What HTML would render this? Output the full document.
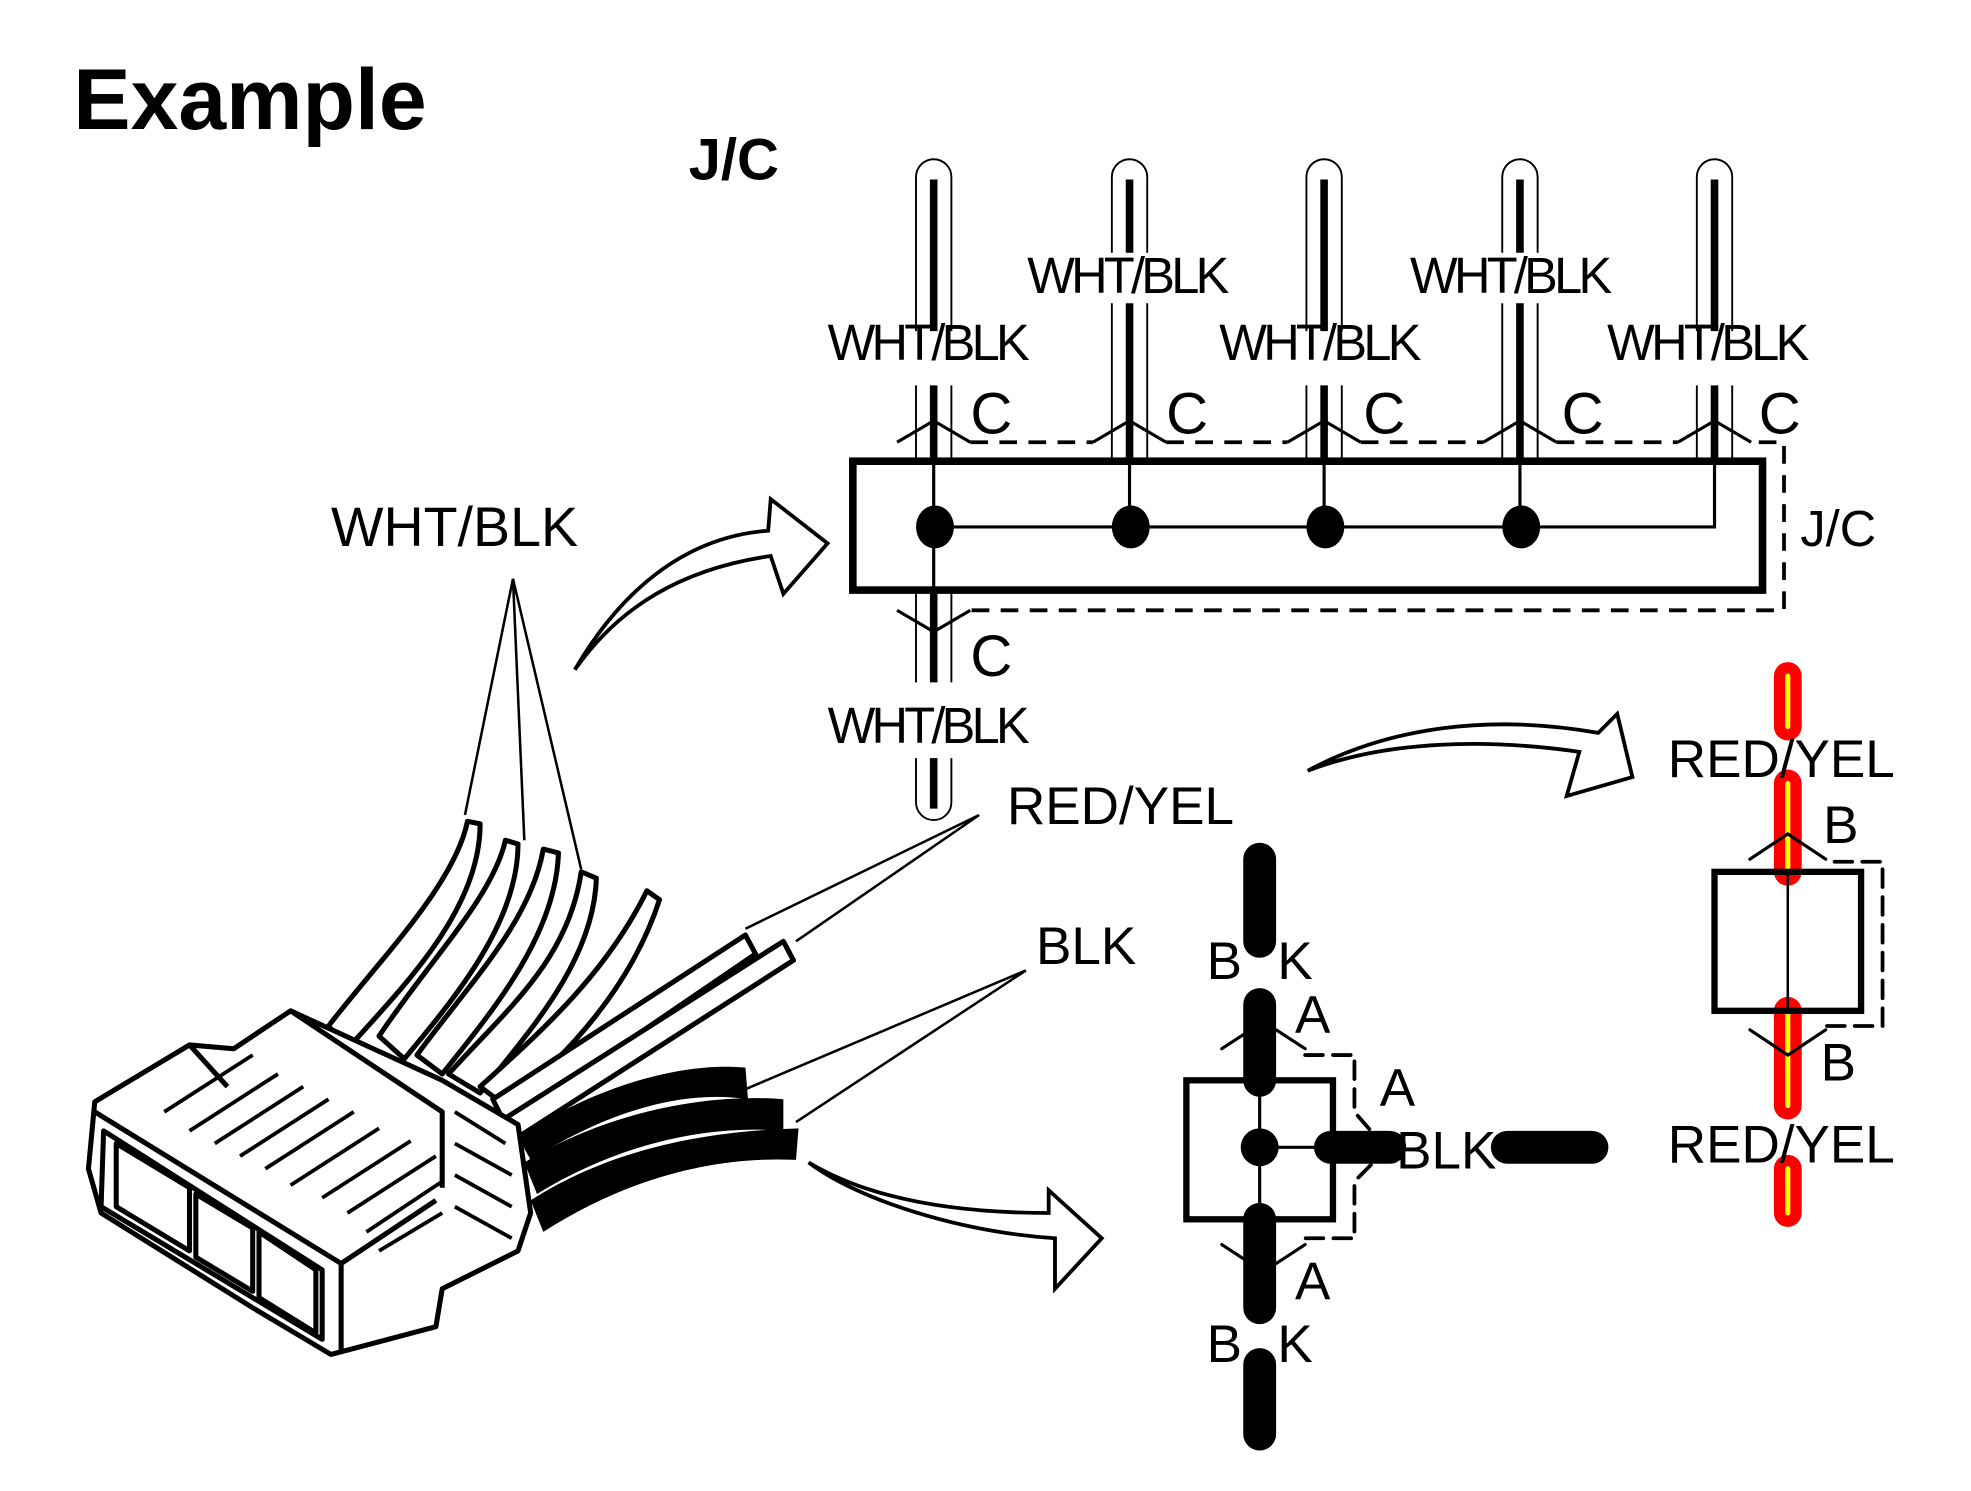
<!DOCTYPE html>
<html><head><meta charset="utf-8"><style>
html,body{margin:0;padding:0;background:#fff;width:1971px;height:1491px;overflow:hidden}
svg{display:block}
text{font-family:"Liberation Sans",sans-serif;fill:#000}
</style></head><body>
<svg width="1971" height="1491" viewBox="0 0 1560 1180" xmlns="http://www.w3.org/2000/svg">
<text x="58" y="102" font-size="68" font-weight="bold">Example</text>
<text x="545" y="142" font-size="46" font-weight="bold">J/C</text>

<g stroke="#000" fill="none">
<g stroke-width="1.5">
<path d="M725,262 V140 A14,14 0 0 1 753,140 V262"/><path d="M725,305 V365 M753,305 V365"/>
<path d="M880,200 V140 A14,14 0 0 1 908,140 V200"/><path d="M880,240 V365 M908,240 V365"/>
<path d="M1034,262 V140 A14,14 0 0 1 1062,140 V262"/><path d="M1034,305 V365 M1062,305 V365"/>
<path d="M1189,200 V140 A14,14 0 0 1 1217,140 V200"/><path d="M1189,240 V365 M1217,240 V365"/>
<path d="M1343,262 V140 A14,14 0 0 1 1371,140 V262"/><path d="M1343,305 V365 M1371,305 V365"/>
<path d="M725,467 V540 M753,467 V540 M725,600 V635 A14,14 0 0 0 753,635 V600"/>
</g>
<g stroke-width="6">
<path d="M739,142 V262 M739,305 V365"/>
<path d="M894,142 V200 M894,240 V365"/>
<path d="M1048,142 V262 M1048,305 V365"/>
<path d="M1203,142 V200 M1203,240 V365"/>
<path d="M1357,142 V262 M1357,305 V365"/>
<path d="M739,467 V540 M739,600 V640"/>
</g>
<g stroke-width="2.5">
<path d="M710,350 L739,333 L768,350 M865,350 L894,333 L923,350 M1019,350 L1048,333 L1077,350 M1174,350 L1203,333 L1232,350 M1328,350 L1357,333 L1386,350"/>
<path d="M710,483 L739,500 L768,483"/>
</g>
<path d="M768,350 H865 M923,350 H1019 M1077,350 H1174 M1232,350 H1328 M1392,350 H1412 V483 H768" stroke-width="3" stroke-dasharray="14,9"/>
<rect x="675" y="365" width="720" height="102" stroke-width="6"/>
<path d="M739,365 V467 M894,365 V417 M1048,365 V417 M1203,365 V417 M739,417 H1357 V365" stroke-width="2.5"/>
</g>
<g fill="#000"><ellipse cx="740" cy="417" rx="15" ry="17"/><ellipse cx="895" cy="417" rx="15" ry="17"/><ellipse cx="1049" cy="417" rx="15" ry="17"/><ellipse cx="1204" cy="417" rx="15" ry="17"/></g>
<g font-size="40">
<text x="655" y="285" textLength="160">WHT/BLK</text>
<text x="813" y="232" textLength="160">WHT/BLK</text>
<text x="965" y="285" textLength="160">WHT/BLK</text>
<text x="1116" y="232" textLength="160">WHT/BLK</text>
<text x="1272" y="285" textLength="160">WHT/BLK</text>
<text x="655" y="588" textLength="160">WHT/BLK</text>
<text x="1425" y="432">J/C</text>
</g>
<text x="262" y="432" font-size="44">WHT/BLK</text>
<g font-size="46"><text x="768" y="343">C</text><text x="923" y="343">C</text><text x="1079" y="343">C</text><text x="1236" y="343">C</text><text x="1392" y="343">C</text><text x="768" y="535">C</text></g>

<g fill="#fff" stroke="#000" stroke-width="3" stroke-linejoin="miter">
<path d="M455,530 C490,480 540,450 610,440 L620,470 L655,430 L610,395 L608,420 C540,425 490,470 455,530 Z"/>
<path d="M1035,610 C1100,585 1180,585 1250,595 L1240,630 L1292,615 L1280,565 L1265,580 C1180,565 1100,575 1035,610 Z"/>
<path d="M640,920 C680,950 760,975 835,980 L835,1020 L872,980 L830,942 L830,960 C760,960 690,950 640,920 Z"/>
</g>

<g stroke="#000" stroke-width="2" fill="none">
<path d="M406,458 L368,645 M406,458 L415,665 M406,458 L460,688"/>
<path d="M775,645 L590,735 M775,645 L630,745"/>
<path d="M812,768 L590,862 M812,768 L630,888"/>
</g>
<text x="797" y="652" font-size="42">RED/YEL</text>
<text x="820" y="763" font-size="42">BLK</text>

<g stroke="#000" stroke-width="4" fill="#fff" stroke-linejoin="round">
<path d="M260,812 C300,760 360,700 370,650 L380,652 C380,720 320,780 275,830 Z"/>
<path d="M300,820 C340,760 390,710 400,665 L410,668 C410,730 360,790 320,838 Z"/>
<path d="M330,835 C370,780 420,730 430,672 L442,675 C440,740 390,800 350,850 Z"/>
<path d="M355,850 C400,800 450,760 460,690 L472,695 C470,760 420,815 380,865 Z"/>
<path d="M380,860 C430,815 480,770 512,705 L522,712 C500,780 450,835 400,875 Z"/>
<path d="M390,870 L590,740 L598,755 L400,890 Z"/>
<path d="M400,885 L620,745 L628,760 L410,900 Z"/>
</g>
<g fill="#000"><path d="M410,900 C470,860 540,840 590,845 L592,870 C540,862 480,880 420,918 Z"/>
<path d="M415,920 C480,880 560,865 620,870 L620,895 C560,890 490,905 425,945 Z"/>
<path d="M420,950 C490,905 570,895 632,893 L630,918 C570,915 500,930 430,975 Z"/></g>
<g stroke="#000" stroke-width="4" fill="#fff" stroke-linejoin="round">
<path d="M75,872 L150,827 L185,830 L230,800 L350,855 L410,890 L420,960 L410,990 L350,1020 L345,1050 L262,1072 L200,1035 L80,960 L70,925 Z"/>
<path d="M75,880 L270,1000 L345,950 M270,1000 L270,1070"/>
<path d="M82,895 L255,1005 L255,1060 L80,955 Z" fill="#fff"/>
<path d="M92,905 L150,940 L150,990 L92,955 Z M155,945 L200,972 L200,1022 L155,995 Z M205,975 L250,1005 L250,1055 L205,1027 Z"/>
<path d="M150,827 L180,860 M230,800 L350,880 L350,940"/>
</g>
<g stroke="#000" stroke-width="3">
<path d="M130,880 L200,835 M150,895 L220,850 M170,905 L240,860 M190,915 L260,870 M210,925 L280,880 M230,938 L300,893 M255,948 L325,903 M275,960 L345,915 M290,975 L350,935 M300,990 L350,960 M360,880 L400,905 M360,905 L405,930 M360,930 L405,955 M360,955 L405,980"/>
</g>

<g transform="translate(-5,0)">
<g stroke="#000" stroke-linecap="round" fill="none">
<path d="M1002,680 V745 M1002,795 V855 M1002,965 V1035 M1002,1080 V1135" stroke-width="26"/>
<path d="M1058,908 H1105 M1198,908 H1265" stroke-width="26"/>
<path d="M1002,855 V965 M1002,908 H1060" stroke-width="2.5"/>
<rect x="944" y="855" width="116" height="110" stroke-width="5"/>
<path d="M972,830 L995,815 M1015,815 L1038,830 M972,985 L995,1000 M1015,1000 L1038,985" stroke-width="2.5"/>
<path d="M1038,835 H1077 V880 L1090,895 M1090,922 L1077,935 V980 H1038" stroke-width="3" stroke-dasharray="14,8"/>
</g>
<ellipse cx="1002" cy="908" rx="15" ry="15"/>
<g font-size="42"><text x="960" y="775">B</text><text x="1016" y="775">K</text><text x="1030" y="817">A</text><text x="1097" y="875">A</text><text x="1110" y="925">BLK</text><text x="1030" y="1028">A</text><text x="960" y="1078">B</text><text x="1016" y="1078">K</text></g>
</g>

<g stroke-linecap="round" fill="none">
<path d="M1415,535 V575 M1415,620 V690 M1415,800 V875 M1415,925 V960" stroke="#f00" stroke-width="22"/>
<path d="M1415,535 V575 M1415,620 V690 M1415,800 V875 M1415,925 V960" stroke="#ff0" stroke-width="4"/>
<path d="M1415,690 V800" stroke="#000" stroke-width="2"/>
<rect x="1357" y="690" width="116" height="110" stroke="#000" stroke-width="5"/>
<path d="M1385,680 L1415,660 L1445,680 M1385,815 L1415,835 L1445,815" stroke="#000" stroke-width="2.5"/>
<path d="M1452,682 H1490 V812 H1445" stroke="#000" stroke-width="3" stroke-dasharray="14,8"/>
</g>
<g font-size="42"><text x="1320" y="615">RED/YEL</text><text x="1443" y="667">B</text><text x="1441" y="855">B</text><text x="1320" y="920">RED/YEL</text></g>
</svg>
</body></html>
